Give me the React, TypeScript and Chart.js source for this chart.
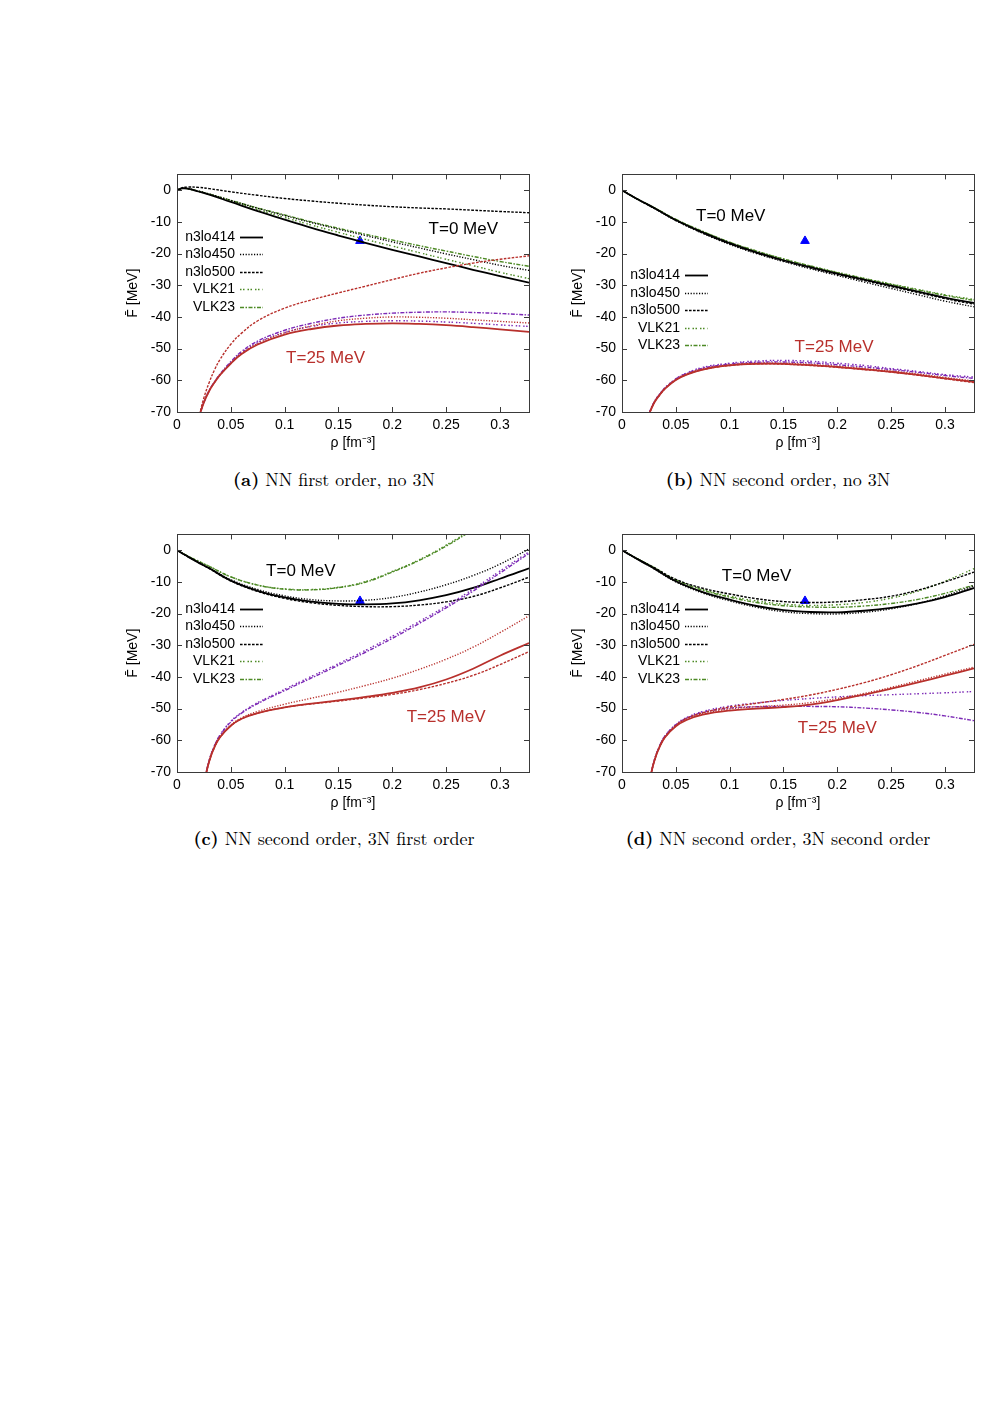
import React, { useEffect, useRef } from "react";
import { Chart, registerables } from "chart.js";

Chart.register(...registerables);

// ---------- shared axes ----------
const rhoT0 = [0, 0.005, 0.01, 0.02, 0.03, 0.05, 0.075, 0.1, 0.125, 0.15, 0.175, 0.2, 0.225, 0.25, 0.275, 0.3, 0.327];
const rhoT25 = [0.02, 0.025, 0.03, 0.035, 0.04, 0.05, 0.06, 0.075, 0.1, 0.125, 0.15, 0.175, 0.2, 0.225, 0.25, 0.275, 0.3, 0.327];
const xTicks = [0, 0.05, 0.1, 0.15, 0.2, 0.25, 0.3];
const xTickLabels = ["0", "0.05", "0.1", "0.15", "0.2", "0.25", "0.3"];
const yTicks = [-70, -60, -50, -40, -30, -20, -10, 0];
const yTickLabels = ["-70", "-60", "-50", "-40", "-30", "-20", "-10", "0"];
const seriesNames = ["n3lo414", "n3lo450", "n3lo500", "VLK21", "VLK23"];
const empiricalRho = [0.17];
const empiricalF = [-16];

// ---------- (a) NN first order, no 3N ----------
const aT0_n3lo414 = [0, 0.6, 0.5, -0.4, -1.4, -3.7, -6.6, -9.3, -11.9, -14.3, -16.6, -18.8, -20.9, -23.0, -25.1, -27.1, -29.2];
const aT0_n3lo450 = [0, 0.6, 0.5, -0.3, -1.2, -3.2, -5.7, -8.0, -10.2, -12.3, -14.3, -16.3, -18.2, -20.1, -21.9, -23.7, -25.3];
const aT0_n3lo500 = [0, 0.8, 1.0, 0.9, 0.5, -0.5, -1.6, -2.6, -3.4, -4.1, -4.7, -5.2, -5.6, -5.9, -6.3, -6.7, -7.1];
const aT0_VLK21 = [0, 0.6, 0.5, -0.3, -1.3, -3.4, -6.1, -8.6, -11.0, -13.3, -15.5, -17.6, -19.7, -21.8, -23.8, -25.9, -27.9];
const aT0_VLK23 = [0, 0.6, 0.5, -0.3, -1.2, -3.2, -5.6, -7.8, -10.0, -12.0, -13.9, -15.7, -17.5, -19.2, -20.9, -22.5, -24.0];
const aT25_n3lo414 = [-72.0, -67.0, -63.3, -60.6, -58.3, -54.7, -51.7, -48.7, -45.6, -43.8, -42.7, -42.2, -42.0, -42.2, -42.6, -43.2, -43.9, -44.7];
const aT25_n3lo450 = [-72.0, -67.0, -63.3, -60.6, -58.3, -54.6, -51.5, -48.4, -45.0, -42.8, -41.2, -40.4, -40.0, -40.1, -40.4, -40.9, -41.4, -41.9];
const aT25_n3lo500 = [-72.0, -65.5, -60.6, -56.6, -53.4, -48.6, -45.1, -41.2, -37.2, -34.6, -32.4, -30.3, -28.2, -26.2, -24.5, -23.0, -21.8, -20.7];
const aT25_VLK21 = [-72.0, -66.9, -63.2, -60.5, -58.2, -54.4, -51.3, -48.1, -44.9, -43.0, -41.9, -41.4, -41.2, -41.3, -41.6, -42.0, -42.5, -43.0];
const aT25_VLK23 = [-72.0, -66.9, -63.1, -60.4, -58.0, -54.1, -50.9, -47.6, -44.2, -42.0, -40.4, -39.4, -38.8, -38.5, -38.4, -38.6, -38.9, -39.4];

// ---------- (b) NN second order, no 3N ----------
const bT0_n3lo414 = [0, -1.0, -2.0, -3.8, -5.6, -9.4, -13.3, -16.7, -19.6, -22.1, -24.3, -26.3, -28.2, -30.1, -32.0, -33.9, -35.6];
const bT0_n3lo450 = [0, -1.0, -2.0, -3.9, -5.7, -9.6, -13.6, -17.1, -20.0, -22.5, -24.8, -26.9, -29.0, -31.0, -33.0, -35.0, -36.8];
const bT0_n3lo500 = [0, -1.0, -2.0, -3.9, -5.7, -9.5, -13.5, -16.9, -19.8, -22.3, -24.5, -26.6, -28.5, -30.4, -32.3, -34.2, -36.0];
const bT0_VLK21 = [0, -1.0, -2.0, -3.8, -5.5, -9.2, -13.0, -16.4, -19.2, -21.7, -23.9, -25.9, -27.8, -29.6, -31.3, -33.0, -34.5];
const bT0_VLK23 = [0, -1.0, -2.0, -3.8, -5.5, -9.2, -13.0, -16.4, -19.2, -21.7, -23.9, -26.0, -27.9, -29.7, -31.5, -33.2, -34.8];
const bT25_n3lo414 = [-75.5, -70.8, -67.0, -64.6, -62.6, -59.9, -58.2, -56.6, -55.3, -54.8, -54.8, -55.2, -55.8, -56.5, -57.3, -58.3, -59.4, -60.5];
const bT25_n3lo450 = [-75.5, -70.8, -67.0, -64.6, -62.6, -59.8, -58.1, -56.4, -55.1, -54.6, -54.6, -55.0, -55.6, -56.3, -57.1, -58.0, -59.1, -60.2];
const bT25_n3lo500 = [-75.5, -70.8, -67.0, -64.6, -62.6, -59.9, -58.2, -56.6, -55.3, -54.8, -54.9, -55.3, -55.9, -56.6, -57.4, -58.4, -59.5, -60.7];
const bT25_VLK21 = [-75.2, -70.5, -66.7, -64.3, -62.3, -59.5, -57.7, -55.9, -54.6, -53.9, -53.7, -54.0, -54.6, -55.3, -56.3, -57.2, -58.2, -59.0];
const bT25_VLK23 = [-75.3, -70.6, -66.8, -64.4, -62.4, -59.6, -57.9, -56.2, -54.9, -54.3, -54.2, -54.5, -55.1, -55.8, -56.6, -57.5, -58.5, -59.4];

// ---------- (c) NN second order, 3N first order ----------
const cT0_n3lo414 = [0, -1.0, -2.0, -3.9, -5.7, -9.6, -12.8, -14.9, -16.2, -16.9, -17.1, -16.8, -15.8, -14.2, -11.9, -9.0, -5.7];
const cT0_n3lo450 = [0, -1.0, -2.0, -3.8, -5.6, -9.3, -12.4, -14.4, -15.6, -16.0, -15.8, -14.9, -13.2, -10.9, -8.0, -4.4, 0.4];
const cT0_n3lo500 = [0, -1.0, -2.0, -3.9, -5.8, -9.7, -13.0, -15.2, -16.6, -17.4, -17.8, -17.8, -17.3, -16.3, -14.6, -11.9, -8.5];
const cT0_VLK21 = [0, -0.9, -1.8, -3.5, -5.1, -8.4, -11.0, -12.2, -12.4, -11.7, -9.9, -6.7, -3.0, 1.6, 6.9, 13.1, 20.1];
const cT0_VLK23 = [0, -0.9, -1.8, -3.5, -5.1, -8.4, -11.0, -12.3, -12.5, -11.8, -10.1, -6.9, -3.2, 1.3, 6.6, 12.8, 19.8];
const cT25_n3lo414 = [-80, -73.5, -66.5, -62.0, -59.0, -55.4, -53.2, -51.4, -49.6, -48.4, -47.4, -46.3, -45.0, -43.3, -40.8, -37.4, -33.3, -29.3];
const cT25_n3lo450 = [-80, -73.5, -66.5, -62.0, -59.0, -55.2, -52.9, -50.9, -48.6, -46.7, -44.8, -42.7, -40.4, -37.6, -34.4, -30.6, -26.0, -20.7];
const cT25_n3lo500 = [-80, -73.5, -66.5, -62.0, -59.0, -55.4, -53.2, -51.4, -49.6, -48.5, -47.6, -46.6, -45.5, -44.0, -42.0, -39.5, -36.1, -32.0];
const cT25_VLK21 = [-80, -73.3, -66.2, -61.5, -58.3, -54.0, -51.2, -48.1, -43.9, -39.8, -35.8, -31.6, -27.2, -22.5, -17.6, -12.3, -6.6, -0.5];
const cT25_VLK23 = [-80, -73.3, -66.2, -61.6, -58.4, -54.2, -51.4, -48.4, -44.3, -40.3, -36.3, -32.2, -27.8, -23.1, -18.2, -12.9, -7.2, -1.0];

// ---------- (d) NN second order, 3N second order ----------
const dT0_n3lo414 = [0, -1.0, -2.0, -3.9, -5.8, -9.8, -13.2, -15.6, -17.6, -18.9, -19.5, -19.6, -19.1, -18.2, -16.8, -14.8, -11.9];
const dT0_n3lo450 = [0, -1.0, -2.0, -3.9, -5.9, -10.0, -13.5, -16.0, -18.0, -19.4, -20.0, -20.1, -19.6, -18.5, -16.8, -14.4, -11.2];
const dT0_n3lo500 = [0, -0.9, -1.9, -3.7, -5.5, -9.2, -12.0, -13.8, -15.3, -16.2, -16.5, -16.3, -15.6, -14.5, -12.6, -10.0, -6.9];
const dT0_VLK21 = [0, -0.9, -1.9, -3.7, -5.5, -9.3, -12.4, -14.5, -16.0, -17.0, -17.4, -17.2, -16.5, -15.1, -12.9, -9.8, -5.8];
const dT0_VLK23 = [0, -0.9, -1.9, -3.7, -5.5, -9.4, -12.6, -14.8, -16.5, -17.5, -17.9, -18.0, -17.6, -16.8, -15.5, -13.6, -11.0];
const dT25_n3lo414 = [-80, -73.5, -66.5, -62.0, -59.0, -55.6, -53.6, -51.9, -50.6, -50.0, -49.5, -48.7, -47.3, -45.6, -43.7, -41.7, -39.6, -37.3];
const dT25_n3lo450 = [-80, -73.5, -66.5, -62.0, -59.0, -55.4, -53.3, -51.6, -50.1, -49.4, -48.9, -48.1, -46.8, -45.2, -43.3, -41.2, -39.1, -36.9];
const dT25_n3lo500 = [-80, -73.5, -66.5, -62.0, -59.0, -55.3, -53.1, -51.3, -49.5, -48.3, -47.1, -45.7, -43.9, -41.8, -39.3, -36.4, -33.2, -29.7];
const dT25_VLK21 = [-80, -73.4, -66.3, -61.7, -58.6, -55.0, -52.8, -50.9, -49.2, -48.2, -47.4, -46.8, -46.3, -45.9, -45.6, -45.3, -45.0, -44.6];
const dT25_VLK23 = [-80, -73.4, -66.3, -61.7, -58.6, -55.1, -53.0, -51.2, -49.8, -49.4, -49.3, -49.3, -49.4, -49.8, -50.4, -51.2, -52.3, -53.8];

// ---------- styles ----------
const BLACK = "#000000";
const GREEN = "#4d8a25";
const RED = "#b8302c";
const PURPLE = "#7c2ab6";
const BLUE = "#0000ff";
const FRAME = "#3a3a3a";
const SANS = "'Liberation Sans', Arial, Helvetica, sans-serif";
const SERIF = "'Latin Modern Roman', 'Liberation Serif', 'DejaVu Serif', serif";
const DASHES: Record<string, number[]> = {
  n3lo414: [],
  n3lo450: [1.2, 1.6],
  n3lo500: [2.6, 1.4],
  VLK21: [1.5, 1.5, 1.5, 3],
  VLK23: [4, 1.5, 1.5, 1.5],
};
const WIDTHS: Record<string, number> = { n3lo414: 1.8, n3lo450: 1.4, n3lo500: 1.4, VLK21: 1.4, VLK23: 1.4 };

const PLOT_W = 352;
const PLOT_H = 240;
const PAD_L = 60;
const PAD_T = 12;
const PAD_R = 14;
const PAD_B = 50;
const X_MAX = 0.327;

type PanelCfg = {
  left: number;
  top: number;
  t0: number[][];
  t25: number[][];
  legendTop: number;
  labels: { text: string; rho: number; F: number; color: string }[];
  capBold: string;
  cap: string;
  capX: number;
  capY: number;
};

const PANELS: PanelCfg[] = [
  {
    left: 177, top: 172,
    t0: [aT0_n3lo414, aT0_n3lo450, aT0_n3lo500, aT0_VLK21, aT0_VLK23],
    t25: [aT25_n3lo414, aT25_n3lo450, aT25_n3lo500, aT25_VLK21, aT25_VLK23],
    legendTop: 62.5,
    labels: [
      { text: "T=0 MeV", rho: 0.266, F: -12.3, color: BLACK },
      { text: "T=25 MeV", rho: 0.138, F: -53.1, color: RED },
    ],
    capBold: "(a)", cap: "NN first order, no 3N", capX: 334, capY: 479,
  },
  {
    left: 622, top: 172,
    t0: [bT0_n3lo414, bT0_n3lo450, bT0_n3lo500, bT0_VLK21, bT0_VLK23],
    t25: [bT25_n3lo414, bT25_n3lo450, bT25_n3lo500, bT25_VLK21, bT25_VLK23],
    legendTop: 101,
    labels: [
      { text: "T=0 MeV", rho: 0.101, F: -8.3, color: BLACK },
      { text: "T=25 MeV", rho: 0.197, F: -49.5, color: RED },
    ],
    capBold: "(b)", cap: "NN second order, no 3N", capX: 778, capY: 479,
  },
  {
    left: 177, top: 532,
    t0: [cT0_n3lo414, cT0_n3lo450, cT0_n3lo500, cT0_VLK21, cT0_VLK23],
    t25: [cT25_n3lo414, cT25_n3lo450, cT25_n3lo500, cT25_VLK21, cT25_VLK23],
    legendTop: 74.5,
    labels: [
      { text: "T=0 MeV", rho: 0.115, F: -6.6, color: BLACK },
      { text: "T=25 MeV", rho: 0.25, F: -52.6, color: RED },
    ],
    capBold: "(c)", cap: "NN second order, 3N first order", capX: 334, capY: 838,
  },
  {
    left: 622, top: 532,
    t0: [dT0_n3lo414, dT0_n3lo450, dT0_n3lo500, dT0_VLK21, dT0_VLK23],
    t25: [dT25_n3lo414, dT25_n3lo450, dT25_n3lo500, dT25_VLK21, dT25_VLK23],
    legendTop: 74.5,
    labels: [
      { text: "T=0 MeV", rho: 0.125, F: -8.1, color: BLACK },
      { text: "T=25 MeV", rho: 0.2, F: -56.3, color: RED },
    ],
    capBold: "(d)", cap: "NN second order, 3N second order", capX: 778, capY: 838,
  },
];

const decorPlugin = {
  id: "decor",
  afterDraw(chart: any, _args: any, opts: any) {
    const { ctx, chartArea: a, scales } = chart;
    const xs = scales.x;
    const ys = scales.y;
    ctx.save();
    // tick marks inside the frame (mirrored)
    ctx.strokeStyle = FRAME;
    ctx.lineWidth = 1;
    ctx.setLineDash([]);
    ctx.beginPath();
    const TL = 5;
    for (const v of xTicks) {
      const px = Math.round(xs.getPixelForValue(v)) + 0.5;
      ctx.moveTo(px, a.bottom);
      ctx.lineTo(px, a.bottom - TL);
      ctx.moveTo(px, a.top);
      ctx.lineTo(px, a.top + TL);
    }
    for (const v of yTicks) {
      const py = Math.round(ys.getPixelForValue(v)) + 0.5;
      ctx.moveTo(a.left, py);
      ctx.lineTo(a.left + TL, py);
      ctx.moveTo(a.right, py);
      ctx.lineTo(a.right - TL, py);
    }
    ctx.stroke();
    ctx.strokeRect(Math.round(a.left) + 0.5, Math.round(a.top) + 0.5, Math.round(a.width), Math.round(a.height));

    // legend
    ctx.font = `14px ${SANS}`;
    ctx.textBaseline = "middle";
    ctx.textAlign = "right";
    seriesNames.forEach((name, i) => {
      const y = a.top + opts.legendTop + i * 17.5;
      ctx.fillStyle = BLACK;
      ctx.fillText(name, a.left + 58, y);
      ctx.beginPath();
      ctx.strokeStyle = i < 3 ? BLACK : GREEN;
      ctx.lineWidth = WIDTHS[name];
      ctx.setLineDash(DASHES[name]);
      ctx.moveTo(a.left + 63, Math.round(y) + 0.5);
      ctx.lineTo(a.left + 86, Math.round(y) + 0.5);
      ctx.stroke();
    });
    ctx.setLineDash([]);

    // temperature labels
    ctx.font = `17px ${SANS}`;
    ctx.textAlign = "center";
    for (const l of opts.labels) {
      ctx.fillStyle = l.color;
      ctx.fillText(l.text, xs.getPixelForValue(l.rho), ys.getPixelForValue(l.F));
    }
    ctx.restore();
  },
};

function makeDatasets(cfg: PanelCfg) {
  const ds: any[] = [];
  cfg.t25.forEach((vals, i) => {
    const name = seriesNames[i];
    ds.push({
      label: name + " T=25",
      data: rhoT25.map((x, k) => ({ x, y: vals[k] })),
      borderColor: i < 3 ? RED : PURPLE,
      borderWidth: WIDTHS[name],
      borderDash: DASHES[name],
      pointRadius: 0,
      fill: false,
      tension: 0.4,
    });
  });
  cfg.t0.forEach((vals, i) => {
    const name = seriesNames[i];
    ds.push({
      label: name + " T=0",
      data: rhoT0.map((x, k) => ({ x, y: vals[k] })),
      borderColor: i < 3 ? BLACK : GREEN,
      borderWidth: WIDTHS[name],
      borderDash: DASHES[name],
      pointRadius: 0,
      fill: false,
      tension: 0.4,
    });
  });
  ds.push({
    label: "empirical",
    data: empiricalRho.map((x, k) => ({ x, y: empiricalF[k] })),
    showLine: false,
    pointStyle: "triangle",
    pointRadius: 5,
    borderWidth: 1,
    borderColor: BLUE,
    backgroundColor: BLUE,
  });
  return ds;
}

function Panel({ cfg }: { cfg: PanelCfg }) {
  const ref = useRef<HTMLCanvasElement | null>(null);
  const W = PAD_L + PLOT_W + PAD_R;
  const H = PAD_T + PLOT_H + PAD_B;
  useEffect(() => {
    if (!ref.current) return;
    const tickFont = { family: SANS, size: 14 };
    const chart = new Chart(ref.current, {
      type: "line",
      data: { datasets: makeDatasets(cfg) },
      options: {
        animation: false,
        responsive: false,
        devicePixelRatio: 1,
        layout: { padding: { left: 0, top: PAD_T, right: PAD_R, bottom: 0 } },
        plugins: {
          legend: { display: false },
          tooltip: { enabled: false },
          decor: { legendTop: cfg.legendTop, labels: cfg.labels },
        } as any,
        scales: {
          x: {
            type: "linear",
            min: 0,
            max: X_MAX,
            afterBuildTicks: (s: any) => {
              s.ticks = xTicks.map((v) => ({ value: v }));
            },
            afterFit: (s: any) => {
              s.height = PAD_B;
            },
            grid: { display: false, drawTicks: false },
            border: { display: false },
            ticks: {
              autoSkip: false,
              maxRotation: 0,
              padding: 5,
              color: BLACK,
              font: tickFont,
              callback: (_v: any, i: number) => xTickLabels[i],
            },
            title: {
              display: true,
              text: "ρ [fm⁻³]",
              color: BLACK,
              font: tickFont,
              padding: { top: 0, bottom: 10 },
            },
          },
          y: {
            type: "linear",
            min: -70,
            max: 5,
            afterBuildTicks: (s: any) => {
              s.ticks = yTicks.map((v) => ({ value: v }));
            },
            afterFit: (s: any) => {
              s.width = PAD_L;
            },
            grid: { display: false, drawTicks: false },
            border: { display: false },
            ticks: {
              autoSkip: false,
              padding: 6,
              color: BLACK,
              font: tickFont,
              callback: (_v: any, i: number) => yTickLabels[i],
            },
            title: {
              display: true,
              text: "F\u0304 [MeV]",
              color: BLACK,
              font: tickFont,
              padding: { top: 8, bottom: 0 },
            },
          },
        },
      },
      plugins: [decorPlugin as any],
    });
    return () => chart.destroy();
  }, [cfg]);
  return (
    <canvas
      ref={ref}
      width={W}
      height={H}
      style={{ position: "absolute", left: cfg.left - PAD_L, top: cfg.top - PAD_T, width: W, height: H }}
    />
  );
}

export default function App() {
  return (
    <div style={{ position: "absolute", left: 0, top: 0, width: 1003, height: 1419, background: "#ffffff" }}>
      {PANELS.map((p, i) => (
        <React.Fragment key={i}>
          <Panel cfg={p} />
          <div
            style={{
              position: "absolute",
              left: p.capX - 250,
              width: 500,
              top: p.capY - 12,
              lineHeight: "24px",
              textAlign: "center",
              fontFamily: SERIF,
              fontSize: 18,
              color: "#000",
              whiteSpace: "nowrap",
            }}
          >
            <b>{p.capBold}</b> {p.cap}
          </div>
        </React.Fragment>
      ))}
    </div>
  );
}
